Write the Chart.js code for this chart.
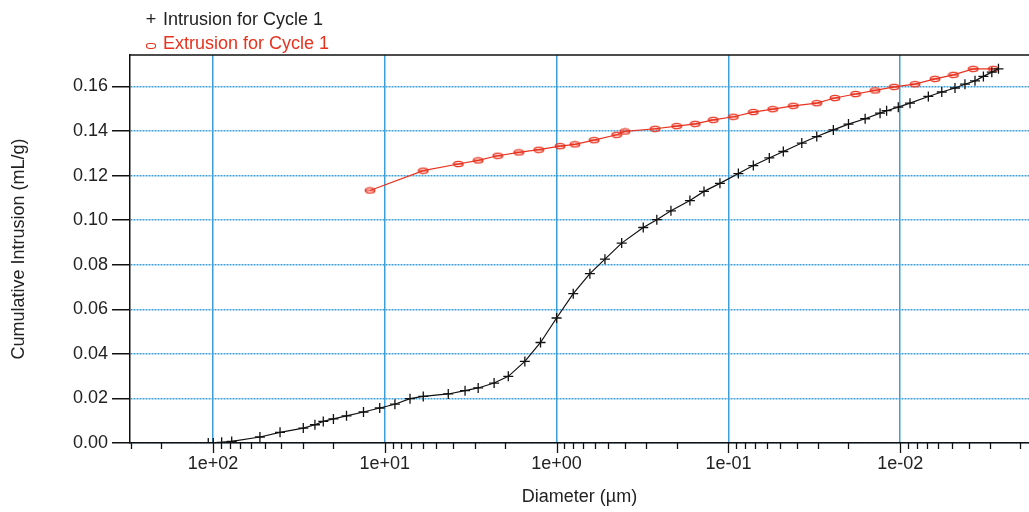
<!DOCTYPE html>
<html>
<head>
<meta charset="utf-8">
<script src="https://cdn.jsdelivr.net/npm/chart.js@4"></script>
<style>
  body { margin: 0; background: #fff; }
  #wrap { position: relative; width: 1029px; height: 512px; }
  #legend { position: absolute; left: 139px; top: 7px; font: 18px "Liberation Sans", Arial, sans-serif; line-height: 24px; }
  #legend .row { display: flex; align-items: center; }
  #legend .mark { width: 24px; display: inline-block; text-align: center; }
  #legend .oval { display: inline-block; width: 8px; height: 4px; border: 1.5px solid #e8321e; border-radius: 40%; }
</style>
</head>
<body>
<div id="wrap">
  <canvas id="chart"></canvas>
  <div id="legend">
    <div class="row" style="color:#222"><span class="mark">+</span>Intrusion for Cycle 1</div>
    <div class="row" style="color:#e8321e"><span class="mark"><span class="oval"></span></span>Extrusion for Cycle 1</div>
  </div>
</div>
<script>
// 侵入（Intrusion for Cycle 1）
const intrusionDiameter = [106.5, 99.6, 89.0, 77.8, 53.3, 40.7, 29.8, 25.5, 22.8, 19.9, 16.7, 13.3, 10.7, 8.73, 7.13,
  5.97, 4.27, 3.41, 2.86, 2.31, 1.91, 1.53, 1.24, 1.00, 0.80, 0.64, 0.523, 0.418, 0.313, 0.261, 0.216, 0.1675, 0.1387,
  0.112, 0.0875, 0.0716, 0.0578, 0.0479, 0.0374, 0.0306, 0.0245, 0.0200, 0.0160, 0.0131, 0.0120, 0.01026, 0.00877,
  0.00686, 0.00573, 0.00480, 0.00420, 0.00367, 0.00328, 0.00293, 0.00268];
const intrusionVolume = [0.0000, 0.0000, 0.0003, 0.0007, 0.0027, 0.0048, 0.0067, 0.0082, 0.0097, 0.0108, 0.0122, 0.0139,
  0.0157, 0.0174, 0.0199, 0.0209, 0.0220, 0.0235, 0.0247, 0.0269, 0.0299, 0.0366, 0.0451, 0.0561, 0.0670, 0.0760, 0.0825,
  0.0897, 0.0967, 0.1002, 0.1042, 0.1088, 0.1129, 0.1165, 0.1209, 0.1245, 0.1279, 0.1308, 0.1346, 0.1375, 0.1405, 0.1431,
  0.1455, 0.1480, 0.1491, 0.1507, 0.1525, 0.1555, 0.1575, 0.1593, 0.1610, 0.1625, 0.1645, 0.1664, 0.1679];

// 押出（Extrusion for Cycle 1）
const extrusionDiameter = [12.2, 5.97, 3.73, 2.86, 2.20, 1.66, 1.27, 0.955, 0.782, 0.605, 0.447, 0.400, 0.267, 0.200,
  0.156, 0.1225, 0.0935, 0.0716, 0.0552, 0.0419, 0.0306, 0.0240, 0.0182, 0.0140, 0.01085, 0.0082, 0.00627, 0.0049,
  0.00376, 0.00287];
const extrusionVolume = [0.1133, 0.1222, 0.1252, 0.1268, 0.1289, 0.1304, 0.1316, 0.1332, 0.1340, 0.1359, 0.1383, 0.1398,
  0.1410, 0.1422, 0.1432, 0.1450, 0.1464, 0.1485, 0.1498, 0.1513, 0.1525, 0.1548, 0.1566, 0.1582, 0.1598, 0.1610,
  0.1634, 0.1652, 0.1679, 0.1679];

// 軸目盛
const xMajorTicks = [100, 10, 1, 0.1, 0.01];
const xMajorLabels = ['1e+02', '1e+01', '1e+00', '1e-01', '1e-02'];
const yTicks = [0, 0.02, 0.04, 0.06, 0.08, 0.10, 0.12, 0.14, 0.16];

const X_MIN = 0.00178, X_MAX = 304, Y_MAX = 0.1741;
const GRID_BLUE = '#3d9fd8';
const RED = '#e8321e';
const FONT = { family: '"Liberation Sans", Arial, sans-serif', size: 18 };

function isMajor(v) {
  return xMajorTicks.some(m => Math.abs(v / m - 1) < 1e-6);
}

// 押出マーカー（横長の楕円）
const oval = document.createElement('canvas');
oval.width = 12; oval.height = 8;
{
  const c = oval.getContext('2d');
  c.strokeStyle = RED;
  c.lineWidth = 1.3;
  c.beginPath();
  c.ellipse(6, 4, 4.8, 2.6, 0, 0, Math.PI * 2);
  c.stroke();
  c.beginPath();
  c.moveTo(1.5, 4); c.lineTo(10.5, 4);
  c.stroke();
}

// 枠線と x 軸の目盛
const framePlugin = {
  id: 'frame',
  afterDraw(chart) {
    const { ctx, chartArea } = chart;
    const xs = chart.scales.x;
    ctx.save();
    ctx.strokeStyle = '#111';
    ctx.lineWidth = 1.5;
    ctx.beginPath();
    ctx.moveTo(chartArea.left, chartArea.top);
    ctx.lineTo(chartArea.right, chartArea.top);
    ctx.stroke();
    ctx.lineWidth = 1.3;
    xs.ticks.forEach(t => {
      const x = Math.round(xs.getPixelForValue(t.value)) + 0.5;
      const len = isMajor(t.value) ? 10 : 6;
      ctx.beginPath();
      ctx.moveTo(x, chartArea.bottom);
      ctx.lineTo(x, chartArea.bottom + len);
      ctx.stroke();
    });
    ctx.restore();
  }
};

const ctx = document.getElementById('chart').getContext('2d');
new Chart(ctx, {
  type: 'line',
  data: {
    datasets: [{
      label: 'Intrusion for Cycle 1',
      data: intrusionDiameter.map((d, i) => ({ x: d, y: intrusionVolume[i] })),
      borderColor: '#111',
      borderWidth: 1.2,
      pointStyle: 'cross',
      pointRadius: 5,
      pointBorderColor: '#111',
      pointBorderWidth: 1.3,
      tension: 0
    }, {
      label: 'Extrusion for Cycle 1',
      data: extrusionDiameter.map((d, i) => ({ x: d, y: extrusionVolume[i] })),
      borderColor: RED,
      borderWidth: 1.2,
      pointStyle: oval,
      tension: 0
    }]
  },
  options: {
    responsive: true,
    maintainAspectRatio: false,
    animation: false,
    layout: { autoPadding: false, padding: { top: 55, right: 0, left: 0, bottom: 0 } },
    plugins: { legend: { display: false }, tooltip: { enabled: false } },
    scales: {
      x: {
        type: 'logarithmic',
        reverse: true,
        min: X_MIN,
        max: X_MAX,
        afterBuildTicks: (scale) => {
          const ticks = [];
          for (let e = -3; e <= 2; e++) {
            for (let m = 1; m <= 9; m++) {
              const v = m * Math.pow(10, e);
              if (v >= X_MIN && v <= X_MAX) ticks.push({ value: v });
            }
          }
          scale.ticks = ticks;
        },
        afterFit: (scale) => { scale.height = 69; },
        ticks: {
          autoSkip: false,
          maxRotation: 0,
          padding: 10,
          color: '#222',
          font: FONT,
          callback: (v) => {
            const i = xMajorTicks.findIndex(m => Math.abs(v / m - 1) < 1e-6);
            return i >= 0 ? xMajorLabels[i] : '';
          }
        },
        grid: {
          drawTicks: false,
          lineWidth: 1.5,
          color: (c) => (c.tick && isMajor(c.tick.value)) ? GRID_BLUE : 'rgba(0,0,0,0)'
        },
        border: { color: '#111', width: 1.5 },
        title: {
          display: true,
          text: 'Diameter (µm)',
          color: '#222',
          font: FONT,
          padding: { top: 0, bottom: 4 }
        }
      },
      y: {
        min: 0,
        max: Y_MAX,
        afterBuildTicks: (scale) => {
          scale.ticks = yTicks.map(v => ({ value: v }));
        },
        afterFit: (scale) => { scale.width = 130; },
        ticks: {
          padding: 4,
          color: '#222',
          font: FONT,
          callback: (v) => v.toFixed(2)
        },
        grid: {
          color: GRID_BLUE,
          lineWidth: 1.5,
          tickColor: '#111',
          tickLength: 18,
          tickWidth: 1.5
        },
        border: { color: '#111', width: 1.5, dash: [2, 1] },
        title: {
          display: true,
          text: 'Cumulative Intrusion (mL/g)',
          color: '#222',
          font: FONT,
          padding: { top: 8, bottom: 0 }
        }
      }
    }
  },
  plugins: [framePlugin]
});
</script>
</body>
</html>
